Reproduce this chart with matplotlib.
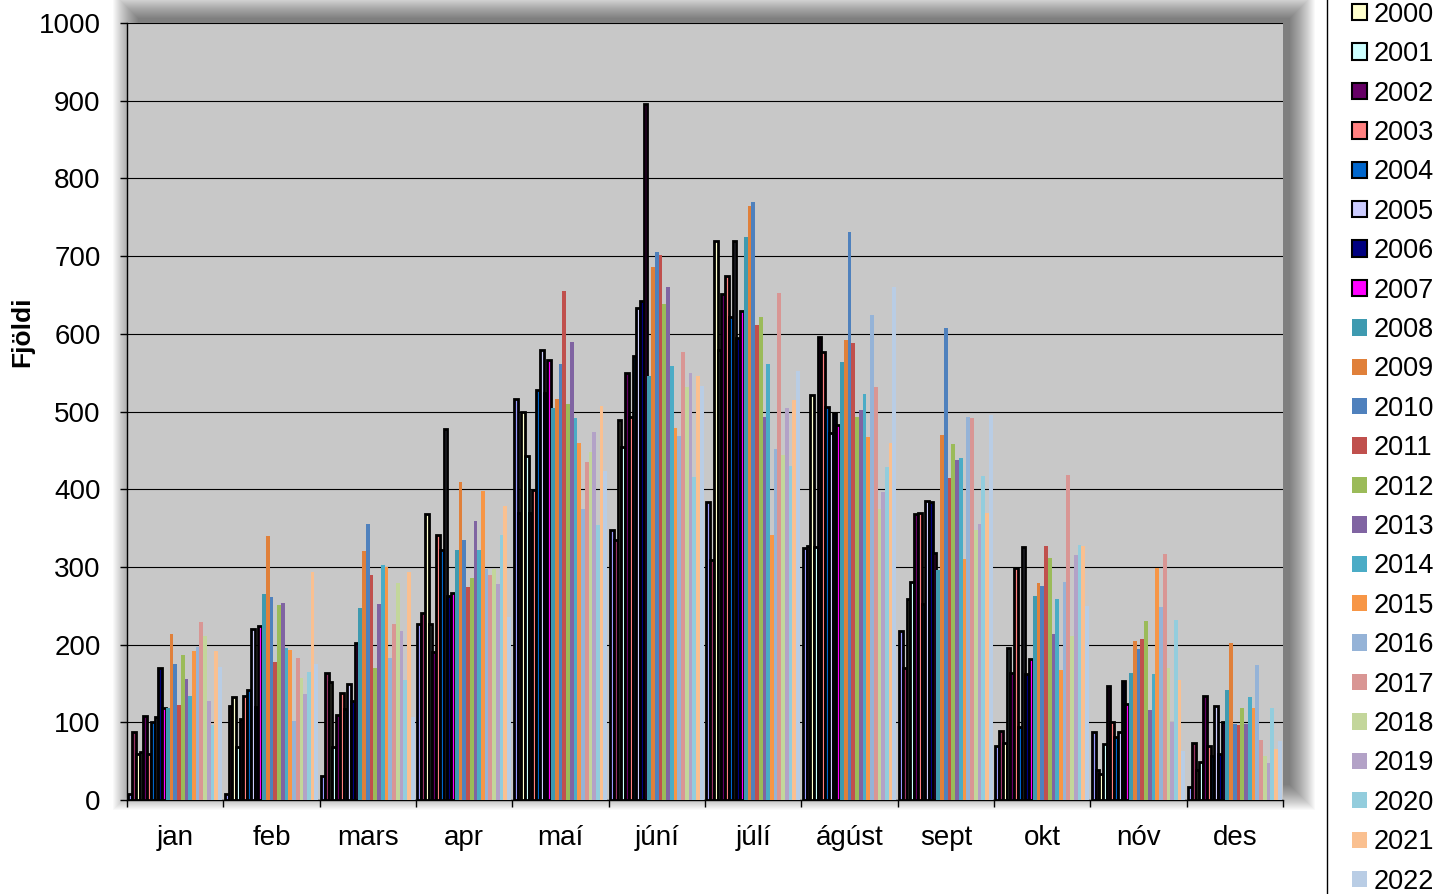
import numpy as np
import matplotlib.pyplot as plt
from matplotlib.patches import Rectangle, Patch

plt.rcParams['font.family'] = ['Liberation Sans', 'DejaVu Sans']

# MONTHS AND YEARS
months = ["jan", "feb", "mars", "apr", "maí", "júní",
          "júlí", "ágúst", "sept", "okt", "nóv", "des"]
years = [str(y) for y in range(1998, 2023)]

# COUNTS PER MONTH, ONE VALUE PER YEAR 1998-2022
jan = [8, 88, 59, 62, 108, 59, 100, 107, 170, 119, 118, 213, 175, 122, 186,
       156, 134, 192, 197, 229, 211, 127, 97, 192, 171]
feb = [8, 121, 132, 68, 104, 134, 142, 220, 120, 224, 265, 340, 261, 178, 251,
       254, 195, 193, 102, 183, 157, 137, 165, 293, 175]
mars = [31, 163, 152, 68, 109, 138, 117, 149, 127, 202, 247, 320, 355, 289, 170,
        252, 302, 300, 183, 227, 279, 218, 154, 294, 107]
apr = [226, 241, 368, 226, 191, 341, 322, 477, 262, 267, 322, 409, 335, 274, 286,
       359, 322, 398, 297, 290, 297, 278, 341, 379, 235]
mai = [516, 369, 500, 443, 369, 399, 528, 579, 524, 566, 505, 516, 561, 655, 510,
       590, 491, 459, 375, 435, 448, 474, 354, 507, 423]
juni = [347, 335, 489, 454, 550, 493, 572, 633, 642, 896, 546, 686, 705, 702, 638,
        660, 559, 479, 469, 576, 531, 550, 416, 546, 533]
juli = [383, 309, 719, 579, 651, 674, 622, 720, 595, 629, 725, 764, 770, 611, 621,
        493, 561, 341, 452, 652, 444, 505, 430, 515, 552]
agust = [324, 327, 521, 326, 596, 577, 506, 472, 498, 482, 564, 592, 731, 588, 493,
         502, 523, 467, 624, 531, 374, 396, 429, 460, 660]
sept = [218, 170, 259, 280, 368, 369, 252, 385, 384, 318, 296, 470, 607, 415, 458,
        437, 440, 310, 493, 492, 348, 355, 417, 369, 496]
okt = [69, 89, 73, 195, 163, 298, 94, 325, 162, 181, 263, 279, 275, 327, 312,
       213, 259, 167, 280, 418, 211, 315, 328, 327, 250]
nov = [88, 38, 34, 72, 147, 101, 81, 87, 153, 124, 164, 205, 194, 207, 230,
       116, 162, 299, 248, 317, 170, 101, 232, 154, 63]
des = [17, 73, 38, 49, 134, 69, 56, 121, 59, 100, 142, 202, 98, 97, 119,
       98, 133, 119, 174, 77, 57, 48, 119, 66, 76]

# SERIES COLOURS (OLD PALETTE UP TO 2007, OFFICE PALETTE AFTER)
colors = ["#9999FF", "#993366", "#FFFFCC", "#CCFFFF", "#660066", "#FF8080",
          "#0066CC", "#CCCCFF", "#000080", "#FF00FF",
          "#3E9AB0", "#E0803A", "#4F81BD", "#C0504D", "#9BBB59", "#8064A2",
          "#4BACC6", "#F79646", "#95B3D7", "#D99694", "#C3D69B", "#B3A2C7",
          "#93CDDD", "#FAC090", "#B9CDE5"]
n_outlined = 10

data = np.array([jan, feb, mars, apr, mai, juni, juli, agust,
                 sept, okt, nov, des]).T

W, H = 1446, 894
fig = plt.figure(figsize=(W / 100, H / 100), dpi=100)
fig.patch.set_facecolor("white")

# PLOT AREA IN PIXELS
ax_l, ax_r, ax_t, ax_b = 127, 1283, 23, 800

# SOFT SHADOW BEHIND PLOT AREA
n_layers = 26
for k in range(n_layers):
    grow = n_layers - k
    x0 = ax_l + 12 - grow
    x1 = ax_r + 6 + grow
    y0 = ax_t - 4 - grow
    y1 = ax_b - 16 + grow
    fig.add_artist(Rectangle(
        (x0 / W, 1 - y1 / H), (x1 - x0) / W, (y1 - y0) / H,
        transform=fig.transFigure, facecolor="black", edgecolor="none",
        alpha=0.022, zorder=-5
    ))

ax = fig.add_axes([ax_l / W, 1 - ax_b / H, (ax_r - ax_l) / W, (ax_b - ax_t) / H])
ax.set_facecolor("#C8C8C8")

# BARS
n_series = len(years)
span = 0.97
w = span / n_series
x = np.arange(len(months))
for j in range(n_series):
    pos = x - span / 2 + (j + 0.5) * w
    if j < n_outlined:
        ax.bar(pos, data[j], width=w, color=colors[j], edgecolor="black",
               linewidth=2.0, zorder=3)
    else:
        ax.bar(pos, data[j], width=w, color=colors[j], linewidth=0, zorder=3)

# AXES
ax.set_xlim(-0.5, len(months) - 0.5)
ax.set_ylim(0, 1000)
ax.set_yticks(np.arange(0, 1001, 100))
ax.set_xticks(x)
ax.set_xticklabels(months)
ax.set_xticks(np.arange(-0.5, len(months), 1), minor=True)
ax.tick_params(axis="x", which="major", length=0, pad=18, labelsize=20)
ax.tick_params(axis="x", which="minor", length=5, width=1, direction="out")
ax.tick_params(axis="y", length=5, width=1, direction="out", pad=14, labelsize=20)

ax.set_axisbelow(True)
ax.yaxis.grid(True, color="black", linewidth=0.8)
for side in ["top", "right"]:
    ax.spines[side].set_visible(False)
for side in ["left", "bottom"]:
    ax.spines[side].set_color("black")
    ax.spines[side].set_linewidth(1)

ax.set_ylabel("Fjöldi", fontsize=19, fontweight="bold")
ax.yaxis.set_label_coords(-0.0805, 0.602)

# LEGEND (RUNS PAST THE TOP AND BOTTOM EDGES)
handles = []
for j in range(n_series):
    if j < n_outlined:
        handles.append(Patch(facecolor=colors[j], edgecolor="black", linewidth=1.5))
    else:
        handles.append(Patch(facecolor=colors[j], edgecolor="none"))

leg = fig.legend(
    handles, years,
    loc="upper left",
    bbox_to_anchor=(1327 / W, 1 + 102 / H),
    fontsize=19.5,
    frameon=True,
    fancybox=False,
    edgecolor="black",
    framealpha=1,
    handlelength=0.55,
    handleheight=0.55,
    handletextpad=0.25,
    labelspacing=0.495,
    borderpad=0.92,
    borderaxespad=0
)
leg.get_frame().set_linewidth(1)

fig.savefig("out.png", dpi=100, facecolor=fig.get_facecolor())
